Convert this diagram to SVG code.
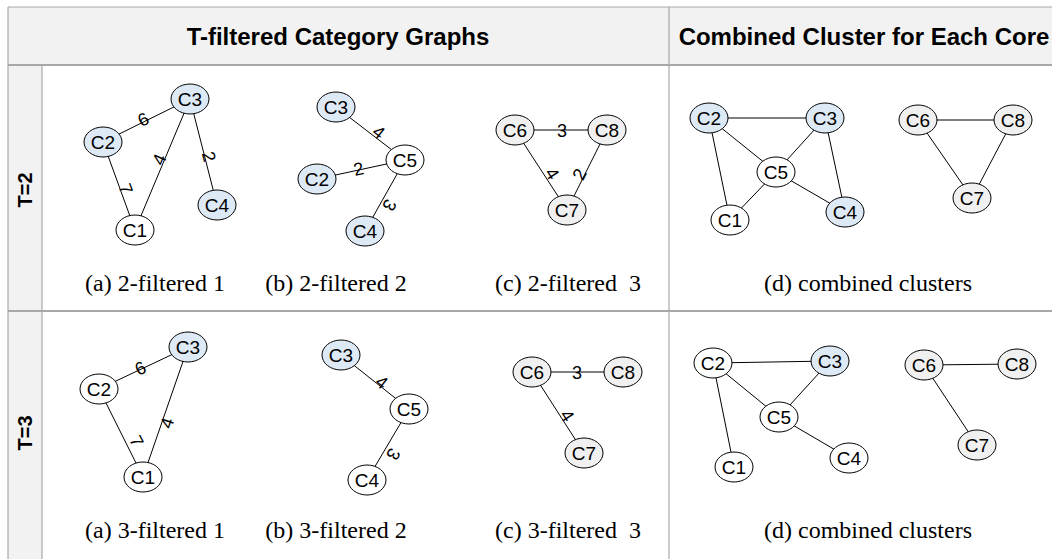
<svg xmlns="http://www.w3.org/2000/svg" width="1052" height="559" viewBox="0 0 1052 559">
<style>
.bg{fill:#ffffff}
.hdr{fill:#f2f2f2}
.grid{stroke:#a8a8a8;stroke-width:1.2;fill:none}
.grid2{stroke:#a8a8a8;stroke-width:2;fill:none}
.htxt{font-family:"Liberation Sans",Arial,sans-serif;font-weight:bold;font-size:24px;fill:#000;text-anchor:middle}
.rtxt{font-family:"Liberation Sans",Arial,sans-serif;font-weight:bold;font-size:20px;fill:#000;text-anchor:middle}
.cap{font-family:"Liberation Serif","Times New Roman",serif;font-size:24px;fill:#000;text-anchor:middle}
.n ellipse{stroke:#000;stroke-width:1}
.w{fill:#ffffff}
.b{fill:#dde9f5}
.g{fill:#f0f0f0}
.n text{font-family:"Liberation Sans",Arial,sans-serif;font-size:19px;fill:#000;text-anchor:middle}
.e line{stroke:#000;stroke-width:1}
.el{font-family:"Liberation Sans",Arial,sans-serif;font-size:18px;fill:#000;text-anchor:middle}
</style>
<rect class="bg" x="0" y="0" width="1052" height="559"/>
<g id="table">
<rect class="hdr" x="8" y="7" width="1044" height="58"/>
<rect class="hdr" x="8" y="65" width="34" height="494"/>
<line class="grid" x1="8" y1="7" x2="1052" y2="7"/>
<line class="grid" x1="8" y1="7" x2="8" y2="559"/>
<line class="grid" x1="42" y1="65" x2="42" y2="559"/>
<line class="grid" x1="669" y1="7" x2="669" y2="559"/>
<line class="grid2" x1="8" y1="65" x2="1052" y2="65"/>
<line class="grid2" x1="8" y1="311" x2="1052" y2="311"/>
<text class="htxt" x="338" y="45">T-filtered Category Graphs</text>
<text class="htxt" x="864" y="45">Combined Cluster for Each Core</text>
<text class="rtxt" transform="translate(32,190) rotate(-90)">T=2</text>
<text class="rtxt" transform="translate(32,433) rotate(-90)">T=3</text>
<text class="cap" x="155" y="291">(a) 2-filtered 1</text>
<text class="cap" x="336" y="291">(b) 2-filtered 2</text>
<text class="cap" x="568" y="291" xml:space="preserve">(c) 2-filtered  3</text>
<text class="cap" x="868" y="291">(d) combined clusters</text>
<text class="cap" x="155" y="538">(a) 3-filtered 1</text>
<text class="cap" x="336" y="538">(b) 3-filtered 2</text>
<text class="cap" x="568" y="538" xml:space="preserve">(c) 3-filtered  3</text>
<text class="cap" x="868" y="538">(d) combined clusters</text>
</g>
<g id="connectors" class="e">
<line x1="103" y1="142" x2="190" y2="99"/>
<line x1="190" y1="99" x2="135" y2="230"/>
<line x1="190" y1="99" x2="217" y2="205"/>
<line x1="103" y1="142" x2="135" y2="230"/>
<text class="el" transform="translate(146,125) rotate(-26)">6</text>
<text class="el" transform="translate(165,162) rotate(-67)">4</text>
<text class="el" transform="translate(203,158) rotate(76)">2</text>
<text class="el" transform="translate(120,191) rotate(70)">7</text>
<line x1="336" y1="107" x2="405" y2="160"/>
<line x1="317" y1="179" x2="405" y2="160"/>
<line x1="405" y1="160" x2="365" y2="231"/>
<text class="el" transform="translate(375,137) rotate(38)">4</text>
<text class="el" transform="translate(360,175) rotate(-12)">2</text>
<text class="el" transform="translate(384,202) rotate(119)">3</text>
<line x1="515" y1="130" x2="607" y2="130"/>
<line x1="515" y1="130" x2="567" y2="210"/>
<line x1="607" y1="130" x2="567" y2="210"/>
<text class="el" transform="translate(562,137)">3</text>
<text class="el" transform="translate(547,177) rotate(57)">4</text>
<text class="el" transform="translate(585,177) rotate(-63)">2</text>
<line x1="709" y1="118" x2="825" y2="118"/>
<line x1="709" y1="118" x2="776" y2="172"/>
<line x1="709" y1="118" x2="730" y2="220"/>
<line x1="825" y1="118" x2="776" y2="172"/>
<line x1="825" y1="118" x2="845" y2="212"/>
<line x1="776" y1="172" x2="730" y2="220"/>
<line x1="776" y1="172" x2="845" y2="212"/>
<line x1="918" y1="120" x2="1013" y2="120"/>
<line x1="918" y1="120" x2="972" y2="198"/>
<line x1="1013" y1="120" x2="972" y2="198"/>
<line x1="99" y1="389" x2="188" y2="347"/>
<line x1="188" y1="347" x2="143" y2="477"/>
<line x1="99" y1="389" x2="143" y2="477"/>
<text class="el" transform="translate(143,374) rotate(-25)">6</text>
<text class="el" transform="translate(173,425) rotate(-71)">4</text>
<text class="el" transform="translate(131,444) rotate(63)">7</text>
<line x1="341" y1="355" x2="409" y2="409"/>
<line x1="409" y1="409" x2="367" y2="480"/>
<text class="el" transform="translate(378,387) rotate(38)">4</text>
<text class="el" transform="translate(388,451) rotate(120)">3</text>
<line x1="532" y1="372" x2="623" y2="372"/>
<line x1="532" y1="372" x2="584" y2="453"/>
<text class="el" transform="translate(577,379)">3</text>
<text class="el" transform="translate(562,419) rotate(57)">4</text>
<line x1="713" y1="363" x2="830" y2="361"/>
<line x1="713" y1="363" x2="779" y2="417"/>
<line x1="713" y1="363" x2="734" y2="467"/>
<line x1="830" y1="361" x2="779" y2="417"/>
<line x1="779" y1="417" x2="849" y2="458"/>
<line x1="924" y1="365" x2="1017" y2="364"/>
<line x1="924" y1="365" x2="977" y2="445"/>
</g>
<g id="t2a-C3" class="n"><ellipse class="b" cx="190" cy="99" rx="19" ry="15"/><text x="190" y="106">C3</text></g>
<g id="t2a-C2" class="n"><ellipse class="b" cx="103" cy="142" rx="19" ry="15"/><text x="103" y="149">C2</text></g>
<g id="t2a-C1" class="n"><ellipse class="w" cx="135" cy="230" rx="19" ry="15"/><text x="135" y="237">C1</text></g>
<g id="t2a-C4" class="n"><ellipse class="b" cx="217" cy="205" rx="19" ry="15"/><text x="217" y="212">C4</text></g>
<g id="t2b-C3" class="n"><ellipse class="b" cx="336" cy="107" rx="19" ry="15"/><text x="336" y="114">C3</text></g>
<g id="t2b-C5" class="n"><ellipse class="w" cx="405" cy="160" rx="19" ry="15"/><text x="405" y="167">C5</text></g>
<g id="t2b-C2" class="n"><ellipse class="b" cx="317" cy="179" rx="19" ry="15"/><text x="317" y="186">C2</text></g>
<g id="t2b-C4" class="n"><ellipse class="b" cx="365" cy="231" rx="19" ry="15"/><text x="365" y="238">C4</text></g>
<g id="t2c-C6" class="n"><ellipse class="g" cx="515" cy="130" rx="19" ry="15"/><text x="515" y="137">C6</text></g>
<g id="t2c-C8" class="n"><ellipse class="g" cx="607" cy="130" rx="19" ry="15"/><text x="607" y="137">C8</text></g>
<g id="t2c-C7" class="n"><ellipse class="g" cx="567" cy="210" rx="19" ry="15"/><text x="567" y="217">C7</text></g>
<g id="t2d-C2" class="n"><ellipse class="b" cx="709" cy="118" rx="19" ry="15"/><text x="709" y="125">C2</text></g>
<g id="t2d-C3" class="n"><ellipse class="b" cx="825" cy="118" rx="19" ry="15"/><text x="825" y="125">C3</text></g>
<g id="t2d-C5" class="n"><ellipse class="w" cx="776" cy="172" rx="19" ry="15"/><text x="776" y="179">C5</text></g>
<g id="t2d-C1" class="n"><ellipse class="w" cx="730" cy="220" rx="19" ry="15"/><text x="730" y="227">C1</text></g>
<g id="t2d-C4" class="n"><ellipse class="b" cx="845" cy="212" rx="19" ry="15"/><text x="845" y="219">C4</text></g>
<g id="t2d-C6" class="n"><ellipse class="g" cx="918" cy="120" rx="19" ry="15"/><text x="918" y="127">C6</text></g>
<g id="t2d-C8" class="n"><ellipse class="g" cx="1013" cy="120" rx="19" ry="15"/><text x="1013" y="127">C8</text></g>
<g id="t2d-C7" class="n"><ellipse class="g" cx="972" cy="198" rx="19" ry="15"/><text x="972" y="205">C7</text></g>
<g id="t3a-C3" class="n"><ellipse class="b" cx="188" cy="347" rx="19" ry="15"/><text x="188" y="354">C3</text></g>
<g id="t3a-C2" class="n"><ellipse class="w" cx="99" cy="389" rx="19" ry="15"/><text x="99" y="396">C2</text></g>
<g id="t3a-C1" class="n"><ellipse class="w" cx="143" cy="477" rx="19" ry="15"/><text x="143" y="484">C1</text></g>
<g id="t3b-C3" class="n"><ellipse class="b" cx="341" cy="355" rx="19" ry="15"/><text x="341" y="362">C3</text></g>
<g id="t3b-C5" class="n"><ellipse class="w" cx="409" cy="409" rx="19" ry="15"/><text x="409" y="416">C5</text></g>
<g id="t3b-C4" class="n"><ellipse class="w" cx="367" cy="480" rx="19" ry="15"/><text x="367" y="487">C4</text></g>
<g id="t3c-C6" class="n"><ellipse class="g" cx="532" cy="372" rx="19" ry="15"/><text x="532" y="379">C6</text></g>
<g id="t3c-C8" class="n"><ellipse class="g" cx="623" cy="372" rx="19" ry="15"/><text x="623" y="379">C8</text></g>
<g id="t3c-C7" class="n"><ellipse class="g" cx="584" cy="453" rx="19" ry="15"/><text x="584" y="460">C7</text></g>
<g id="t3d-C2" class="n"><ellipse class="w" cx="713" cy="363" rx="19" ry="15"/><text x="713" y="370">C2</text></g>
<g id="t3d-C3" class="n"><ellipse class="b" cx="830" cy="361" rx="19" ry="15"/><text x="830" y="368">C3</text></g>
<g id="t3d-C5" class="n"><ellipse class="w" cx="779" cy="417" rx="19" ry="15"/><text x="779" y="424">C5</text></g>
<g id="t3d-C1" class="n"><ellipse class="w" cx="734" cy="467" rx="19" ry="15"/><text x="734" y="474">C1</text></g>
<g id="t3d-C4" class="n"><ellipse class="w" cx="849" cy="458" rx="19" ry="15"/><text x="849" y="465">C4</text></g>
<g id="t3d-C6" class="n"><ellipse class="g" cx="924" cy="365" rx="19" ry="15"/><text x="924" y="372">C6</text></g>
<g id="t3d-C8" class="n"><ellipse class="g" cx="1017" cy="364" rx="19" ry="15"/><text x="1017" y="371">C8</text></g>
<g id="t3d-C7" class="n"><ellipse class="g" cx="977" cy="445" rx="19" ry="15"/><text x="977" y="452">C7</text></g>
</svg>
